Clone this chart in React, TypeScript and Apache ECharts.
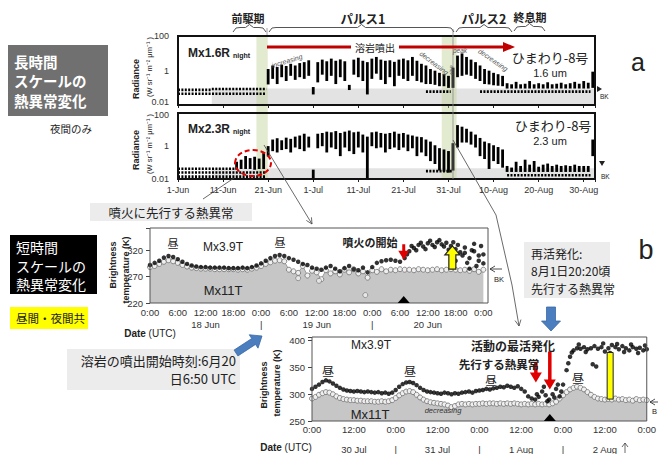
import React, { useEffect, useRef } from 'react';
import * as echarts from 'echarts';

const LAT = '"Liberation Sans", "Noto Sans CJK JP", sans-serif';
const JP = '"Noto Sans CJK JP", "Liberation Sans", sans-serif';

// ---------- Panel a : nightly radiance streaks (day index from 1 Jun) ----------
const streakDays = [13, 14, 15, 16, 17, 18, 19, 20, 21, 22, 23, 24, 25, 26, 27, 28, 29, 30, 31, 32, 33, 34, 35, 36, 37, 38, 39, 40, 41, 42, 43, 44, 45, 46, 47, 48, 49, 50, 51, 52, 53, 54, 55, 56, 57, 58, 59, 60, 61, 62, 63, 64, 65, 66, 67, 68, 69, 70, 71, 72, 73, 74, 75, 76, 77, 78, 79, 80, 81, 82, 83, 84, 85, 86, 87, 88, 89, 90, 91, 92];
const r16Hi = [null, null, null, null, null, null, null,
  1.0, 1.6, 1.3, 1.8, 1.5, 2.0, 1.6, 2.2, 2.5, 3.2,
  0.09, 2.5, 3.5, 2.8, 4.0, 3.0, 3.6, 2.8, 0.12, 3.5,
  4.5, 3.0, 2.5, 4.0, 5.0, 3.5, 3.0, 3.2, 2.6, 3.5,
  4.0, 3.2, 5.0, 3.0, 2.0, 1.6, 1.0, 0.8, 0.6, 0.5,
  0.4, 1.2, 6.0, 8.0, 5.0, 3.5, 2.5, 1.6, 1.0, 0.8,
  0.6, 0.5, 0.4, 0.15, 0.13, 0.18, 0.13, 0.14, 0.2, 0.13,
  0.15, 0.13, 0.17, 0.13, 0.14, 0.16, 0.13, 0.15, 0.18, 0.14,
  0.2, 0.16, 0.7];
const r16Lo = [null, null, null, null, null, null, null,
  0.19, 0.4, 0.2, 0.5, 0.3, 0.6, 0.35, 0.5, 0.4, 0.6,
  0.05, 0.25, 0.7, 0.3, 0.6, 0.2, 0.5, 0.3, 0.09, 0.7,
  0.5, 0.3, 0.05, 0.4, 0.8, 0.35, 0.2, 0.5, 0.15, 0.6,
  0.4, 0.3, 0.6, 0.3, 0.25, 0.2, 0.2, 0.18, 0.15, 0.15,
  0.12, 0.12, 0.5, 0.6, 0.7, 0.6, 0.4, 0.3, 0.2, 0.19,
  0.17, 0.16, 0.15, 0.11, 0.11, 0.11, 0.11, 0.11, 0.11, 0.11,
  0.11, 0.11, 0.11, 0.11, 0.11, 0.11, 0.11, 0.11, 0.11, 0.11,
  0.11, 0.11, 0.12];
const r23Hi = [0.09, 0.12, 0.2, 0.15, 0.18, 0.14, 0.3,
  0.8, 2.0, 2.4, 1.8, 2.6, 2.2, 3.0, 3.5, 4.5, 3.0,
  0.03, 4.5, 5.0, 6.0, 5.5, 6.5, 5.0, 6.0, 7.0, 5.5,
  6.0, 4.0, 3.0, 5.5, 6.0, 5.0, 4.5, 5.0, 6.0, 4.5,
  5.0, 4.0, 3.5, 3.0, 2.8, 2.0, 1.5, 0.9, 0.6, 0.5,
  0.4, 1.2, 15, 12, 9, 6, 4, 2.5, 1.5, 1.2,
  0.9, 0.7, 0.5, 0.05, 0.04, 0.09, 0.05, 0.12, 0.06, 0.1,
  0.045, 0.06, 0.07, 0.05, 0.06, 0.05, 0.055, 0.05, 0.06, 0.05,
  0.05, 0.05, 2.0];
const r23Lo = [0.045, 0.05, 0.05, 0.05, 0.045, 0.05, 0.05,
  0.29, 0.6, 0.5, 0.7, 0.8, 0.5, 1.0, 0.8, 0.6, 1.0,
  0.014, 0.9, 1.2, 0.5, 1.0, 0.8, 0.3, 1.0, 0.6, 0.4,
  1.0, 0.5, 0.014, 1.2, 0.9, 1.0, 0.5, 0.8, 1.0, 0.7,
  1.0, 0.6, 0.9, 0.3, 0.5, 0.3, 0.15, 0.1, 0.04, 0.035,
  0.03, 0.04, 1.0, 2.0, 2.0, 1.5, 1.0, 0.3, 0.2, 0.05,
  0.15, 0.1, 0.06, 0.033, 0.033, 0.033, 0.033, 0.033, 0.033, 0.033,
  0.033, 0.033, 0.033, 0.033, 0.033, 0.033, 0.033, 0.033, 0.033, 0.033,
  0.033, 0.033, 0.3];
// background rows [startDay, endDay, value]
const bkRows16 = [[0, 7.5, 0.075], [7.5, 19.6, 0.085], [0, 19.6, 0.045], [55, 60.5, 0.06], [67, 91.5, 0.06]];
const bkRows23 = [[0, 12.6, 0.042], [0, 19.6, 0.025], [0, 19.6, 0.014], [55, 61, 0.03], [73, 91.5, 0.017]];
const bkBand16 = [7.5, 0.09];
const bkBand23 = [7.5, 0.045];
const phaseBands = [[17.4, 19.9], [58.5, 61.8]];
const aug1Day = 61;
const dateTickDays = [0, 10, 20, 30, 40, 50, 60, 70, 80, 90];
const dateTickLabels = ['1-Jun', '11-Jun', '21-Jun', '1-Jul', '11-Jul', '21-Jul', '31-Jul', '10-Aug', '20-Aug', '30-Aug'];
const radTickExpTop = [0, 2];
const radTickExpBottom = [-2, 0];
const radTickText: Record<string, string> = { '-2': '0.01', '0': '1', '2': '100' };

// ---------- Panel b1 : 18-20 Jun hourly brightness temperature (K) ----------
const b1Mx39 = [292, 296, 300, 306, 309, 307, 303, 298, 294, 291, 289, 288, 288, 287, 287, 287, 287, 286, 286, 286, 287, 286, 288, 291,
  295, 300, 305, 309, 311, 309, 305, 302, 298, 294, 292, 287, 285, 283, 287, 290, 285, 280, 286, 290, 284, 282, 287, 278,
  288, 296, 299, 301, 302, 300, 298, 305, 318, 324, 330, 327, 333, 330, 335, 331, 334, 328, 322, 316, 325, 305, 318, 300, 312];
const b1Extra39 = [[55.5, 312], [56.5, 328], [57.5, 320], [58.5, 334], [59.5, 322], [60.5, 338], [61.5, 326], [62.5, 339], [63.5, 327], [64.5, 321], [65.5, 335], [66.5, 330], [67.5, 310], [68.5, 296], [69.5, 320], [70.5, 290], [71.5, 328], [66, 300], [68, 315], [70, 332], [72, 295], [69, 285], [71, 310]];
const b1Mx11 = [288, 290, 294, 298, 301, 299, 296, 292, 289, 287, 286, 285, 285, 285, 284, 284, 284, 284, 284, 283, 284, 283, 285, 287,
  290, 294, 297, 300, 301, 299, 283, 280, 277, 290, 272, 281, 278, 265, 282, 276, 280, 274, 283, 278, 284, 276, 280, 268,
  282, 279, 284, 280, 283, 282, 284, 283, 283, 282, 284, 283, 282, 283, 284, 282, 283, 284, 283, 282, 283, 281, 284, 279, 283];
const b1Outliers11 = [[46.5, 235], [32, 267], [36.5, 262]];
const b1Dates = ['18 Jun', '19 Jun', '20 Jun'];
const b1YTicks = [220, 270, 320];
const eruptionHour = 54.8;
const b1Yellow = [65.3, 284, 328];

// ---------- Panel b2 : 30 Jul - 2 Aug ----------
const b2Mx39 = [310, 314, 318, 323, 326, 324, 320, 316, 312, 309, 307, 306, 305, 306, 305, 304, 305, 304, 303, 304, 302, 303, 301, 303,
  308, 314, 319, 322, 323, 321, 317, 312, 308, 305, 304, 303, 302, 301, 303, 302, 300, 302, 301, 303, 304, 305, 303, 306,
  307, 308, 310, 309, 311, 312, 314, 313, 316, 314, 312, 315, 310, 305, 296, 292, 290, 295, 305, 298, 290, 300, 310, 296,
  318, 345, 370, 382, 386, 385, 388, 384, 386, 390, 385, 388, 380, 386, 392, 388, 384, 390, 386, 382, 388, 385, 387, 382, 384];
const b2Extra39 = [[73.5, 358], [74.5, 378], [76.5, 393], [78.5, 379], [80.5, 356], [81.5, 352], [83.5, 395], [85.5, 377], [87.5, 394], [89.5, 379], [91.5, 393], [93.5, 377], [95.5, 391], [66.5, 314], [67.5, 287], [69.5, 294], [70.5, 318], [64.5, 300], [71.5, 305]];
const b2Mx11 = [292, 295, 299, 302, 304, 303, 300, 296, 293, 291, 290, 289, 289, 288, 288, 287, 287, 287, 286, 286, 287, 286, 287, 289,
  293, 298, 302, 305, 306, 304, 299, 294, 290, 287, 285, 284, 283, 282, 281, 279, 276, 278, 281, 282, 281, 282, 281, 282,
  282, 283, 282, 283, 283, 282, 283, 282, 283, 282, 283, 282, 281, 282, 281, 282, 281, 282, 281, 282, 281, 283, 286, 292,
  298, 304, 309, 312, 314, 312, 309, 304, 299, 295, 292, 291, 290, 291, 290, 292, 290, 291, 289, 290, 288, 291, 289, 290, 289];
const b2Dates = ['30 Jul', '31 Jul', '1 Aug', '2 Aug'];
const b2YTicks = [250, 300, 350, 400];
const b2RedArrows = [[64.2, 360, 322], [68.2, 380, 309]];
const b2Yellow = [85.5, 291, 378];

function streakItem(params: any, api: any) {
  const x = api.value(0), lo = api.value(1), hi = api.value(2);
  const a = api.coord([x, hi]);
  const b = api.coord([x, lo]);
  return {
    type: 'rect',
    shape: { x: a[0] - 1.4, y: a[1] - 1.5, width: 2.8, height: Math.max(b[1] - a[1] + 3, 3) },
    style: { fill: '#000' },
  };
}

function buildOption(): any {
  const s16 = streakDays.map((d, i) => (r16Hi[i] == null ? null : [d, r16Lo[i], r16Hi[i]])).filter(Boolean);
  const s23 = streakDays.map((d, i) => (r23Hi[i] == null ? null : [d, r23Lo[i], r23Hi[i]])).filter(Boolean);
  const logFmt = (exps: number[]) => (v: number) => {
    const e = Math.round(Math.log10(v));
    return exps.includes(e) && Math.abs(Math.log10(v) - e) < 0.01 ? radTickText[String(e)] : '';
  };
  const dateFmt = (v: number) => {
    const k = dateTickDays.indexOf(Math.round(v));
    return k >= 0 && Math.abs(v - Math.round(v)) < 1e-6 ? dateTickLabels[k] : '';
  };
  const aX = (g: number, showLabel: boolean) => ({
    gridIndex: g, type: 'value', min: 0, max: 92.5, interval: 10,
    axisLine: { show: false }, splitLine: { show: false },
    axisTick: { show: true, length: 3, lineStyle: { color: '#222' } },
    axisLabel: { show: showLabel, formatter: dateFmt, fontSize: 9, color: '#333', margin: 6, fontFamily: LAT },
  });
  const aY = (g: number, exps: number[]) => ({
    gridIndex: g, type: 'log', logBase: 10, min: 0.01, max: 100,
    axisLine: { show: false }, splitLine: { show: false }, axisTick: { show: false }, minorTick: { show: false },
    axisLabel: { formatter: logFmt(exps), fontSize: 9, color: '#333', margin: 9, fontFamily: LAT },
  });
  const b1Fmt = (v: number) => {
    if (v > 72 || Math.abs(v - Math.round(v)) > 1e-6) return '';
    const h = v % 24;
    let s = `${h}:00`;
    if (h === 12) s += '\n' + b1Dates[Math.floor(v / 24)];
    else if (h === 0 && v > 0 && v < 72) s += '\n|';
    return s;
  };
  const b2Fmt = (v: number) => {
    if (v > 96 || Math.abs(v - Math.round(v)) > 1e-6) return '';
    const h = v % 24;
    let s = `${h}:00`;
    if (h === 12) s += '\n\n' + b2Dates[Math.floor(v / 24)];
    else if (h === 0 && v > 0 && v < 96) s += '\n\n|';
    return s;
  };
  const bkLine = (rows: number[][], g: number, band: number[]) =>
    rows.map((r, i) => ({
      type: 'line', xAxisIndex: g, yAxisIndex: g, data: [[r[0], r[2]], [r[1], r[2]]],
      symbol: 'none', silent: true, z: 3,
      lineStyle: { color: '#000', width: 2.6, type: [2, 1.4] },
      markArea: i === 0 ? {
        silent: true, itemStyle: { color: 'rgba(0,0,0,0.11)' },
        data: [[{ xAxis: band[0], yAxis: 0.01 }, { xAxis: 92.5, yAxis: band[1] }]],
      } : undefined,
    }));

  return {
    animation: false,
    backgroundColor: '#fff',
    textStyle: { fontFamily: LAT },
    grid: [
      { left: 178, top: 36, width: 417, height: 69, show: true, borderColor: '#111', borderWidth: 2, z: 5 },
      { left: 178, top: 113, width: 417, height: 66, show: true, borderColor: '#111', borderWidth: 2, z: 5 },
      { left: 150, top: 228, width: 338, height: 75, show: true, borderColor: '#555', borderWidth: 1, z: 5 },
      { left: 312, top: 337, width: 338, height: 85, show: true, borderColor: '#555', borderWidth: 1, z: 5 },
    ],
    xAxis: [
      aX(0, false),
      aX(1, true),
      {
        gridIndex: 2, type: 'value', min: 0, max: 73, interval: 6,
        axisLine: { show: false }, splitLine: { show: false }, axisTick: { show: false },
        axisLabel: { formatter: b1Fmt, fontSize: 9.5, color: '#333', margin: 3, lineHeight: 12, fontFamily: LAT },
      },
      {
        gridIndex: 3, type: 'value', min: 0, max: 96, interval: 12,
        axisLine: { show: false }, splitLine: { show: false }, axisTick: { show: false },
        axisLabel: { formatter: b2Fmt, fontSize: 9.5, color: '#333', margin: 3, lineHeight: 10, fontFamily: LAT },
      },
    ],
    yAxis: [
      aY(0, radTickExpTop),
      aY(1, radTickExpBottom),
      {
        gridIndex: 2, type: 'value', min: 220, max: 362, interval: 50,
        axisLine: { show: false }, splitLine: { show: false },
        axisTick: { show: true, length: 4, lineStyle: { color: '#444' } },
        axisLabel: { formatter: (v: number) => (b1YTicks.includes(v) ? String(v) : ''), fontSize: 9.5, color: '#333', margin: 7, fontFamily: LAT },
      },
      {
        gridIndex: 3, type: 'value', min: 250, max: 407, interval: 50,
        axisLine: { show: false }, splitLine: { show: false },
        axisTick: { show: true, length: 4, lineStyle: { color: '#444' } },
        axisLabel: { formatter: (v: number) => (b2YTicks.includes(v) ? String(v) : ''), fontSize: 9.5, color: '#333', margin: 7, fontFamily: LAT },
      },
    ],
    series: [
      ...bkLine(bkRows16, 0, bkBand16),
      ...bkLine(bkRows23, 1, bkBand23),
      { type: 'custom', xAxisIndex: 0, yAxisIndex: 0, data: s16, renderItem: streakItem, encode: { x: 0, y: [1, 2] }, z: 4, silent: true },
      { type: 'custom', xAxisIndex: 1, yAxisIndex: 1, data: s23, renderItem: streakItem, encode: { x: 0, y: [1, 2] }, z: 4, silent: true },
      {
        type: 'line', xAxisIndex: 2, yAxisIndex: 2, data: b1Mx11.map((v, i) => [i, v]),
        symbol: 'circle', symbolSize: 5, showSymbol: true, z: 2, silent: true,
        itemStyle: { color: '#efefef', borderColor: '#6e6e6e', borderWidth: 0.8 },
        lineStyle: { color: '#9a9a9a', width: 1 }, areaStyle: { color: '#c6c6c6', opacity: 1 },
      },
      {
        type: 'scatter', xAxisIndex: 2, yAxisIndex: 2, data: b1Outliers11, symbolSize: 5, z: 3, silent: true,
        itemStyle: { color: '#efefef', borderColor: '#6e6e6e', borderWidth: 0.8 },
      },
      {
        type: 'scatter', xAxisIndex: 2, yAxisIndex: 2, data: [...b1Mx39.map((v, i) => [i, v]), ...b1Extra39],
        symbolSize: 4.5, z: 4, silent: true, itemStyle: { color: '#000' },
      },
      {
        type: 'line', xAxisIndex: 3, yAxisIndex: 3, data: b2Mx11.map((v, i) => [i, v]),
        symbol: 'circle', symbolSize: 5, showSymbol: true, z: 2, silent: true,
        itemStyle: { color: '#efefef', borderColor: '#6e6e6e', borderWidth: 0.8 },
        lineStyle: { color: '#8a8a8a', width: 1.2 }, areaStyle: { color: '#c6c6c6', opacity: 1 },
      },
      {
        type: 'scatter', xAxisIndex: 3, yAxisIndex: 3, data: [...b2Mx39.map((v, i) => [i, v]), ...b2Extra39],
        symbolSize: 4.5, z: 4, silent: true, itemStyle: { color: '#000' },
      },
    ],
  };
}

function arrowPts(x1: number, y1: number, x2: number, y2: number, sw: number, hw: number, hl: number) {
  const dx = x2 - x1, dy = y2 - y1, L = Math.hypot(dx, dy) || 1;
  const ux = dx / L, uy = dy / L, nx = -uy, ny = ux;
  const bx = x2 - ux * hl, by = y2 - uy * hl;
  return [
    [x1 + nx * sw / 2, y1 + ny * sw / 2], [bx + nx * sw / 2, by + ny * sw / 2], [bx + nx * hw / 2, by + ny * hw / 2],
    [x2, y2], [bx - nx * hw / 2, by - ny * hw / 2], [bx - nx * sw / 2, by - ny * sw / 2], [x1 - nx * sw / 2, y1 - ny * sw / 2],
  ];
}
function vHead(x1: number, y1: number, x2: number, y2: number, len = 6, w = 3) {
  const dx = x2 - x1, dy = y2 - y1, L = Math.hypot(dx, dy) || 1;
  const ux = dx / L, uy = dy / L, nx = -uy, ny = ux;
  return [[x2 - ux * len + nx * w, y2 - uy * len + ny * w], [x2, y2], [x2 - ux * len - nx * w, y2 - uy * len - ny * w]];
}

function buildGraphics(chart: any) {
  const P = (g: number, x: number, y: number) => chart.convertToPixel({ gridIndex: g }, [x, y]) as number[];
  const T = (x: number, y: number, text: string, size: number, o: any = {}) => ({
    type: 'text', x, y, rotation: o.rot || 0, z: 100, silent: true,
    style: {
      text, fontSize: size, fontFamily: o.ff || LAT, fontWeight: o.bold ? 'bold' : 'normal',
      fontStyle: o.italic ? 'italic' : 'normal', fill: o.fill || '#222', align: o.align || 'center',
      verticalAlign: 'middle', backgroundColor: o.bg, padding: o.pad, rich: o.rich, lineHeight: o.lh,
    },
  });
  const R = (x: number, y: number, w: number, h: number, fill: string, o: any = {}) => ({
    type: 'rect', z: o.z ?? 50, silent: true, shape: { x, y, width: w, height: h },
    style: { fill, stroke: o.stroke, lineWidth: o.lw },
  });
  const L = (x1: number, y1: number, x2: number, y2: number, stroke: string, lw: number, dash?: number[]) => ({
    type: 'line', z: 60, silent: true, shape: { x1, y1, x2, y2 }, style: { stroke, lineWidth: lw, lineDash: dash },
  });
  const PG = (pts: number[][], fill: string, o: any = {}) => ({
    type: 'polygon', z: o.z ?? 80, silent: true, shape: { points: pts }, style: { fill, stroke: o.stroke, lineWidth: o.lw },
  });
  const PL = (pts: number[][], stroke: string, lw: number, smooth = 0) => ({
    type: 'polyline', z: 60, silent: true, shape: { points: pts, smooth }, style: { stroke, lineWidth: lw, fill: null },
  });
  const brace = (x0: number, x1: number, y: number) => {
    const m = (x0 + x1) / 2;
    return PL([[x0, y + 6], [x0 + 3, y + 2], [x0 + 7, y + 1.5], [m - 4, y + 1.5], [m, y - 1.5], [m + 4, y + 1.5], [x1 - 7, y + 1.5], [x1 - 3, y + 2], [x1, y + 6]], '#555', 1);
  };

  const els: any[] = [];
  // phase bands spanning both radiance panels
  phaseBands.forEach(([d0, d1]) => {
    const x0 = P(0, d0, 1)[0], x1 = P(0, d1, 1)[0];
    els.push(R(x0, 35, x1 - x0, 144, 'rgba(190,208,150,0.45)', { z: 1 }));
  });
  const xa = P(0, aug1Day, 1)[0];
  els.push(L(xa, 29, xa, 179, '#8a8a8a', 0.8));
  els.push(L(267, 28, 267, 35, '#8a8a8a', 0.8));

  // the two log-axis labels where the radiance panels meet (nudged apart)
  const lo0 = P(0, 1, 0.01), hi1 = P(1, 1, 100);
  els.push(T(169, lo0[1] - 3.5, radTickText['-2'], 9, { align: 'right', fill: '#333' }));
  els.push(T(169, hi1[1] + 1.5, radTickText['2'], 9, { align: 'right', fill: '#333' }));

  // left boxes
  els.push(R(8, 45, 100, 71, '#707070'));
  els.push(T(14, 61, '長時間', 14.5, { ff: JP, bold: true, fill: '#fff', align: 'left' }));
  els.push(T(14, 80.5, 'スケールの', 14.5, { ff: JP, bold: true, fill: '#fff', align: 'left' }));
  els.push(T(14, 100, '熱異常変化', 14.5, { ff: JP, bold: true, fill: '#fff', align: 'left' }));
  els.push(T(71, 128, '夜間のみ', 10.5, { ff: JP }));
  els.push(R(10, 235, 87, 59, '#000'));
  els.push(T(16, 247, '短時間', 14, { ff: JP, fill: '#fff', align: 'left', lh: 17 }));
  els.push(T(16, 265.5, 'スケールの', 14, { ff: JP, fill: '#fff', align: 'left', lh: 17 }));
  els.push(T(16, 284, '熱異常変化', 14, { ff: JP, fill: '#fff', align: 'left', lh: 17 }));
  els.push(R(10, 307, 78, 22, '#ffff00'));
  els.push(T(16, 318, '昼間・夜間共', 11.5, { ff: JP, align: 'left' }));
  els.push(R(90, 203, 162, 18, '#ececec'));
  els.push(T(171, 212, '噴火に先行する熱異常', 12.5, { ff: JP }));
  els.push(R(67, 349, 173, 41, '#ececec'));
  els.push(T(236, 360, '溶岩の噴出開始時刻:6月20', 13, { ff: JP, align: 'right', lh: 16 }));
  els.push(T(236, 378, '日6:50 UTC', 13, { ff: JP, align: 'right', lh: 16 }));
  els.push(R(524, 242, 86, 56, '#ececec'));
  els.push(T(531, 253, '再活発化:', 12, { ff: JP, align: 'left', lh: 15 }));
  els.push(T(531, 270, '8月1日20:20頃', 12, { ff: JP, align: 'left', lh: 15 }));
  els.push(T(531, 288, '先行する熱異常', 12, { ff: JP, align: 'left', lh: 15 }));

  // phase labels and braces
  els.push(T(248, 18, '前駆期', 11, { ff: JP, bold: true }));
  els.push(T(363, 18, 'パルス1', 12.5, { ff: JP, bold: true }));
  els.push(T(484, 18, 'パルス2', 12.5, { ff: JP, bold: true }));
  els.push(T(530, 17, '終息期', 11, { ff: JP, bold: true }));
  els.push(brace(233, 266, 26));
  els.push(brace(269, 454, 26));
  els.push(brace(456, 512, 26));
  els.push(brace(514, 545, 25));
  els.push(T(638, 62, 'a', 25));
  els.push(T(646, 250, 'b', 27));

  // panel a texts
  els.push(T(188, 53, 'Mx1.6R', 12, { bold: true, align: 'left' }));
  els.push(T(233, 55, 'night', 7, { bold: true, align: 'left' }));
  els.push(T(188, 129, 'Mx2.3R', 12, { bold: true, align: 'left' }));
  els.push(T(233, 131, 'night', 7, { bold: true, align: 'left' }));
  els.push(T(550, 57, 'ひまわり-8号', 13, { ff: JP }));
  els.push(T(550, 73, '1.6 um', 11));
  els.push(T(553, 125, 'ひまわり-8号', 13, { ff: JP }));
  els.push(T(550, 141, '2.3 um', 11));
  els.push(L(267, 47, 505, 47, '#c00000', 3));
  els.push(PG([[503, 42], [515, 47], [503, 52]], '#c00000'));
  els.push(T(375, 47, '溶岩噴出', 10, { ff: JP, bg: '#fff', pad: [1, 4] }));
  els.push(T(287, 61, 'increasing', 7, { italic: true, fill: '#555', rot: 0.3 }));
  els.push(T(434, 63, 'decreasing', 7, { italic: true, fill: '#555', rot: -0.65 }));
  els.push(T(460, 50, 'peak', 6.5, { italic: true, fill: '#555' }));
  els.push(T(493, 60, 'decreasing', 7, { italic: true, fill: '#555', rot: -0.6 }));
  els.push(T(451, 70, 'rise', 6, { italic: true, fill: '#555', rot: Math.PI / 2 }));
  els.push(PG([[597, 86], [602, 89], [597, 92]], '#222'));
  els.push(T(600, 96, 'BK', 6.5, { align: 'left' }));
  els.push(PG([[599, 161], [605, 161], [602, 166]], '#222'));
  els.push(T(601, 176, 'BK', 6.5, { align: 'left' }));
  els.push(T(136, 79, 'Radiance', 9, { bold: true, rot: Math.PI / 2 }));
  els.push(T(149, 67, '(W sr⁻¹ m⁻² μm⁻¹ )', 7.5, { rot: Math.PI / 2 }));
  els.push(T(136, 150, 'Radiance', 9, { bold: true, rot: Math.PI / 2 }));
  els.push(T(149, 144, '(W sr⁻¹ m⁻² μm⁻¹ )', 7.5, { rot: Math.PI / 2 }));

  // connectors from panel a
  els.push(L(203, 199, 234, 178, '#444', 0.8));
  els.push({ type: 'ellipse', z: 90, silent: true, shape: { cx: 253, cy: 163, rx: 18, ry: 13 }, style: { fill: null, stroke: '#e00000', lineWidth: 2, lineDash: [5, 3] } });
  els.push(L(264, 145, 312, 224, '#444', 0.8));
  els.push(PL(vHead(264, 145, 312, 224), '#444', 0.8));
  els.push(PL([[453, 140], [496, 215], [512, 285], [519, 326]], '#444', 0.8));
  els.push(PL(vHead(512, 285, 519, 326), '#444', 0.8));
  els.push(L(625, 453, 625, 443, '#444', 0.8));
  els.push(PL(vHead(625, 453, 625, 443, 4, 3), '#444', 0.8));

  // blue arrows
  els.push(PG(arrowPts(551, 307, 551, 331, 9, 19, 10), '#4a7ebf', { stroke: '#3a6aa6', lw: 0.8 }));
  els.push(PG(arrowPts(236, 353, 262, 336, 7, 16, 10), '#4a7ebf', { stroke: '#3a6aa6', lw: 0.8 }));

  // panel b1 annotations
  els.push(T(173, 243, '昼', 11, { ff: JP }));
  els.push(T(280, 242, '昼', 11, { ff: JP }));
  els.push(T(223, 247, 'Mx3.9T', 12));
  els.push(T(223, 290, 'Mx11T', 13));
  els.push(T(370, 242, '噴火の開始', 11, { ff: JP, bold: true }));
  const e1 = P(2, eruptionHour, 331), e2 = P(2, eruptionHour, 302);
  els.push(PG(arrowPts(e1[0], e1[1], e2[0], e2[1], 3, 11, 9), '#e00000'));
  const tri1 = P(2, eruptionHour, 220);
  els.push(PG([[tri1[0] - 6, tri1[1]], [tri1[0] + 6, tri1[1]], [tri1[0], tri1[1] - 7]], '#000', { z: 95 }));
  const y1 = P(2, b1Yellow[0], b1Yellow[1]), y2 = P(2, b1Yellow[0], b1Yellow[2]);
  els.push(PG(arrowPts(y1[0], y1[1], y2[0], y2[1], 7, 15, 9), '#ffff00', { stroke: '#222', lw: 1.2 }));
  els.push(L(502, 269, 490, 269, '#222', 0.8));
  els.push(PL(vHead(502, 269, 490, 269, 5, 3), '#222', 0.8));
  els.push(T(494, 279, 'BK', 7.5, { align: 'left' }));
  els.push(T(113, 265, 'Brightness', 9, { bold: true, rot: Math.PI / 2 }));
  els.push(T(126, 270, 'temperature (K)', 9, { bold: true, rot: Math.PI / 2 }));
  els.push(T(150, 333, '{b|Date} (UTC)', 10, { rich: { b: { fontWeight: 'bold', fontSize: 10, fontFamily: LAT } } }));

  // panel b2 annotations
  els.push(T(371, 345, 'Mx3.9T', 12));
  els.push(T(370, 414, 'Mx11T', 13));
  els.push(T(328, 370, '昼', 12, { ff: JP }));
  els.push(T(410, 370, '昼', 12, { ff: JP }));
  els.push(T(491, 380, '昼', 11.5, { ff: JP, lh: 12 }));
  els.push(T(578, 377, '昼', 12, { ff: JP }));
  els.push(T(513, 345, '活動の最活発化', 12, { ff: JP, bold: true }));
  els.push(T(499, 364, '先行する熱異常', 11.5, { ff: JP, bold: true, lh: 12 }));
  els.push(T(443, 410, 'decreasing', 7.5, { italic: true, fill: '#333' }));
  b2RedArrows.forEach(([h, k0, k1]) => {
    const a = P(3, h, k0), b = P(3, h, k1);
    els.push(PG(arrowPts(a[0], a[1], b[0], b[1], 3.5, 12, 10), '#e00000'));
  });
  const tri2 = P(3, b2RedArrows[1][0], 250);
  els.push(PG([[tri2[0] - 6, tri2[1]], [tri2[0] + 6, tri2[1]], [tri2[0], tri2[1] - 7]], '#000', { z: 95 }));
  const yb1 = P(3, b2Yellow[0], b2Yellow[2]), yb2 = P(3, b2Yellow[0], b2Yellow[1]);
  els.push(R(yb1[0] - 3, yb1[1], 6, yb2[1] - yb1[1], '#ffff00', { stroke: '#222', lw: 1, z: 85 }));
  els.push(L(658, 402, 650, 402, '#222', 0.8));
  els.push(PL(vHead(658, 402, 650, 402, 5, 3), '#222', 0.8));
  els.push(T(652, 411, 'B', 7.5, { align: 'left' }));
  els.push(T(264, 385, 'Brightness', 9, { bold: true, rot: Math.PI / 2 }));
  els.push(T(277, 383, 'temperature (K)', 9, { bold: true, rot: Math.PI / 2 }));
  els.push(T(286, 447, '{b|Date} (UTC)', 10, { rich: { b: { fontWeight: 'bold', fontSize: 10, fontFamily: LAT } } }));
  return els;
}

export default function App() {
  const ref = useRef<HTMLDivElement>(null);
  useEffect(() => {
    const chart = echarts.init(ref.current as HTMLDivElement, undefined, { renderer: 'svg' });
    chart.setOption(buildOption());
    chart.setOption({ graphic: { elements: buildGraphics(chart) } });
    return () => chart.dispose();
  }, []);
  return <div ref={ref} style={{ position: 'absolute', left: 0, top: 0, width: 659, height: 454, background: '#fff' }} />;
}
